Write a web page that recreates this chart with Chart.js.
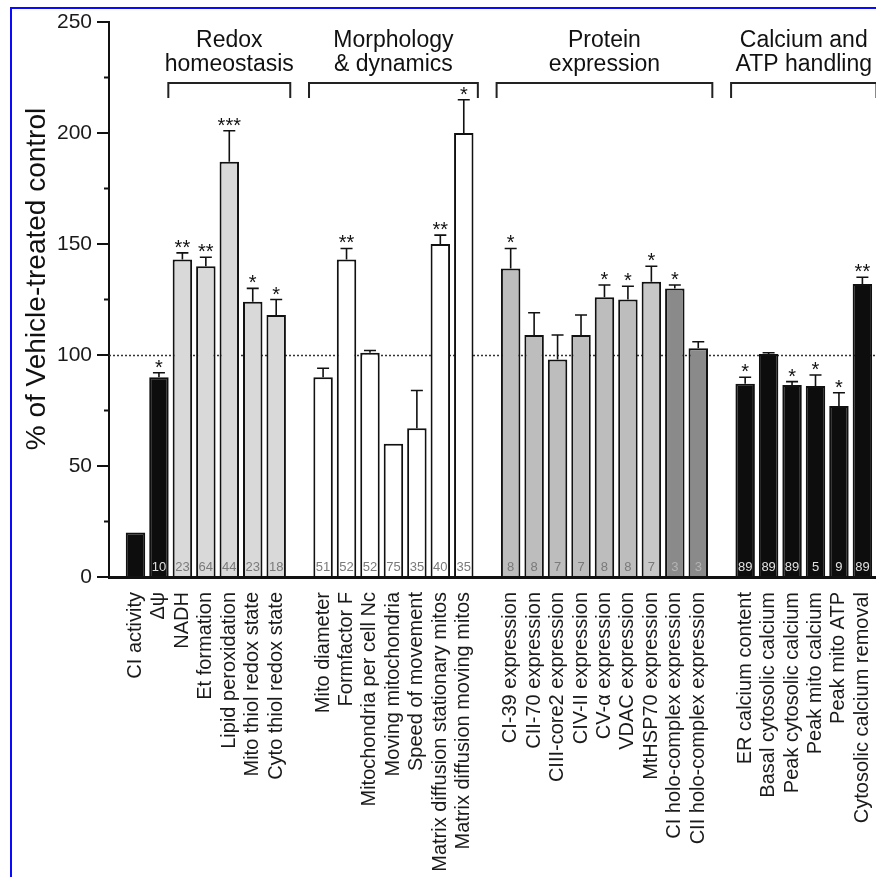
<!DOCTYPE html>
<html><head><meta charset="utf-8">
<script src="https://cdn.jsdelivr.net/npm/chart.js@4/dist/chart.umd.min.js"></script>
<style>
html,body{margin:0;padding:0;background:#fff;}
#wrap{position:relative;width:876px;height:877px;overflow:hidden;}
canvas{position:absolute;left:0;top:0;}
.fl{position:absolute;left:10px;top:7px;width:2px;height:870px;background:#0a0aff;}
.ft{position:absolute;left:10px;top:7px;width:866px;height:2px;background:#0a0aff;}
</style></head>
<body><div id="wrap"><canvas id="c" width="876" height="877"></canvas><div class="fl"></div><div class="ft"></div></div>
<script>
// ---------- DATA ----------
const categories = [
  'CI activity', 'Δψ',
  'NADH', 'Et formation', 'Lipid peroxidation', 'Mito thiol redox state', 'Cyto thiol redox state',
  '',
  'Mito diameter', 'Formfactor F', 'Mitochondria per cell Nc', 'Moving mitochondria', 'Speed of movement', 'Matrix diffusion stationary mitos', 'Matrix diffusion moving mitos',
  '',
  'CI-39 expression', 'CII-70 expression', 'CIII-core2 expression', 'CIV-II expression', 'CV-α expression', 'VDAC expression', 'MtHSP70 expression', 'CI holo-complex expression', 'CII holo-complex expression',
  '',
  'ER calcium content', 'Basal cytosolic calcium', 'Peak cytosolic calcium', 'Peak mito calcium', 'Peak mito ATP', 'Cytosolic calcium removal'
];
const values = [20, 90, 143, 140, 187, 124, 118, null, 90, 143, 101, 60, 67, 150, 200, null,
  139, 109, 98, 109, 126, 125, 133, 130, 103, null, 87, 100.5, 86.5, 86, 77, 132];
const errors = [null, 2, 3, 4, 14, 6, 7, null, 4, 5, 1, null, 17, 4, 15, null,
  9, 10, 11, 9, 5.5, 6, 7, 1.5, 3, null, 3, 0.5, 1.5, 5, 6, 3];
const nCounts = [null, 10, 23, 64, 44, 23, 18, null, 51, 52, 52, 75, 35, 40, 35, null,
  8, 8, 7, 7, 8, 8, 7, 3, 3, null, 89, 89, 89, 5, 9, 89];
const stars = ['', '*', '**', '**', '***', '*', '*', '', '', '**', '', '', '', '**', '*', '',
  '*', '', '', '', '*', '*', '*', '*', '', '', '*', '', '*', '*', '*', '**'];
const groupNames = [['Redox', 'homeostasis'], ['Morphology', '& dynamics'], ['Protein', 'expression'], ['Calcium and', 'ATP handling']];
const groupFirst = ['NADH', 'Mito diameter', 'CI-39 expression', 'ER calcium content'];
const groupLast = ['Cyto thiol redox state', 'Matrix diffusion moving mitos', 'CII holo-complex expression', 'Cytosolic calcium removal'];
const yTickStep = 50;
const yMinorStep = 25;
const yMax = 250;
const referenceValue = 100;
const yTitle = '% of Vehicle-treated control';

// ---------- STYLE ----------
const FONT = "'Liberation Sans', Arial, Helvetica, sans-serif";
const groupFill = ['#d9d9d9', '#ffffff', '#bdbdbd', '#0d0d0d'];
const specialFill = { 'MtHSP70 expression': '#c8c8c8', 'CI holo-complex expression': '#8a8a8a', 'CII holo-complex expression': '#8a8a8a' };
function fillFor(i) {
  const name = categories[i];
  if (specialFill[name]) return specialFill[name];
  for (let g = 0; g < groupFirst.length; g++) {
    const a = categories.indexOf(groupFirst[g]), b = categories.indexOf(groupLast[g]);
    if (i >= a && i <= b) return groupFill[g];
  }
  return '#0d0d0d';
}
function nColor(fill) {
  if (fill === '#0d0d0d') return '#e0e0e0';
  if (fill === '#8a8a8a') return '#b4b4b4';
  return '#7a7a7a';
}

const points = [];
categories.forEach((c, i) => { if (values[i] !== null) points.push({ x: i, y: values[i], k: i }); });

const annot = {
  id: 'annot',
  beforeDatasetsDraw(chart) {
    const { ctx, chartArea, scales: { y } } = chart;
    const py = Math.round(y.getPixelForValue(referenceValue)) + 0.5;
    ctx.save();
    ctx.strokeStyle = '#333';
    ctx.lineWidth = 1.5;
    ctx.setLineDash([2, 2]);
    ctx.beginPath(); ctx.moveTo(chartArea.left, py); ctx.lineTo(chartArea.right, py); ctx.stroke();
    ctx.restore();
  },
  afterDatasetsDraw(chart) {
    const { ctx, chartArea, scales: { y } } = chart;
    const meta = chart.getDatasetMeta(0);
    ctx.save();
    meta.data.forEach((el, j) => {
      const k = points[j].k;
      const x = el.x;
      let topY = y.getPixelForValue(values[k]);
      if (errors[k] !== null) {
        const ey = y.getPixelForValue(values[k] + errors[k]);
        ctx.strokeStyle = '#111'; ctx.lineWidth = 1.6; ctx.setLineDash([]);
        ctx.beginPath();
        ctx.moveTo(x, topY); ctx.lineTo(x, ey);
        ctx.moveTo(x - 6, ey); ctx.lineTo(x + 6, ey);
        ctx.stroke();
        topY = ey;
      }
      if (stars[k]) {
        ctx.fillStyle = '#111';
        ctx.font = '20px ' + FONT;
        ctx.textAlign = 'center'; ctx.textBaseline = 'alphabetic';
        ctx.fillText(stars[k], x, topY + 1);
      }
      if (nCounts[k] !== null) {
        ctx.fillStyle = nColor(fillFor(k));
        ctx.font = '13px ' + FONT;
        ctx.textAlign = 'center'; ctx.textBaseline = 'middle';
        ctx.fillText(String(nCounts[k]), x, chartArea.bottom - 10);
      }
    });
    ctx.restore();
  },
  afterDraw(chart) {
    const { ctx, chartArea, scales: { x, y } } = chart;
    ctx.save();
    // minor ticks
    ctx.strokeStyle = '#111'; ctx.lineWidth = 2;
    for (let v = yMinorStep; v < yMax; v += yTickStep) {
      const py = y.getPixelForValue(v);
      ctx.beginPath(); ctx.moveTo(chartArea.left - 5, py); ctx.lineTo(chartArea.left, py); ctx.stroke();
    }
    // group brackets + names
    for (let g = 0; g < groupNames.length; g++) {
      const a = categories.indexOf(groupFirst[g]), b = categories.indexOf(groupLast[g]);
      const x1 = x.getPixelForValue(a - 0.6), x2 = x.getPixelForValue(b + 0.6);
      ctx.strokeStyle = '#222'; ctx.lineWidth = 2;
      ctx.beginPath();
      ctx.moveTo(x1, 98); ctx.lineTo(x1, 83); ctx.lineTo(x2, 83); ctx.lineTo(x2, 98);
      ctx.stroke();
      ctx.fillStyle = '#111';
      ctx.font = '23px ' + FONT;
      ctx.textAlign = 'center'; ctx.textBaseline = 'alphabetic';
      const cx = (x1 + x2) / 2;
      ctx.fillText(groupNames[g][0], cx, 47);
      ctx.fillText(groupNames[g][1], cx, 71);
    }
    // y title
    ctx.translate(45, 279);
    ctx.rotate(-Math.PI / 2);
    ctx.fillStyle = '#111';
    ctx.font = '28px ' + FONT;
    ctx.textAlign = 'center'; ctx.textBaseline = 'alphabetic';
    ctx.fillText(yTitle, 0, 0);
    ctx.restore();
  }
};

new Chart(document.getElementById('c'), {
  type: 'bar',
  data: {
    datasets: [{
      data: points,
      backgroundColor: (c) => c.raw ? fillFor(c.raw.k) : '#000',
      borderColor: '#111',
      borderWidth: 2,
      categoryPercentage: 1,
      barPercentage: 0.83
    }]
  },
  options: {
    responsive: false,
    animation: false,
    devicePixelRatio: 1,
    layout: { padding: { top: 22, left: 0, right: 0, bottom: 0 } },
    plugins: { legend: { display: false }, tooltip: { enabled: false } },
    scales: {
      x: {
        type: 'linear', min: -1.13, max: 31.58, offset: false,
        afterBuildTicks: (s) => { s.ticks = categories.map((c, i) => ({ value: i })); },
        ticks: {
          autoSkip: false, maxRotation: 90, minRotation: 90, padding: 15,
          color: '#1a1a1a', font: { family: FONT, size: 20 },
          callback: (v) => categories[v] ?? ''
        },
        grid: { display: false, drawTicks: false, offset: false },
        border: { display: true, color: '#111', width: 3 },
        afterFit: (s) => { s.height = 300; s.paddingLeft = 0; s.paddingRight = 0; }
      },
      y: {
        min: 0, max: yMax,
        ticks: { stepSize: yTickStep, padding: 5, color: '#1a1a1a', font: { family: FONT, size: 21 } },
        grid: { drawOnChartArea: false, drawTicks: true, tickLength: 12, color: '#111', lineWidth: 2 },
        border: { color: '#111', width: 2 },
        afterFit: (s) => { s.width = 109; s.paddingTop = 0; s.paddingBottom = 0; }
      }
    }
  },
  plugins: [annot]
});
</script>
</body></html>
